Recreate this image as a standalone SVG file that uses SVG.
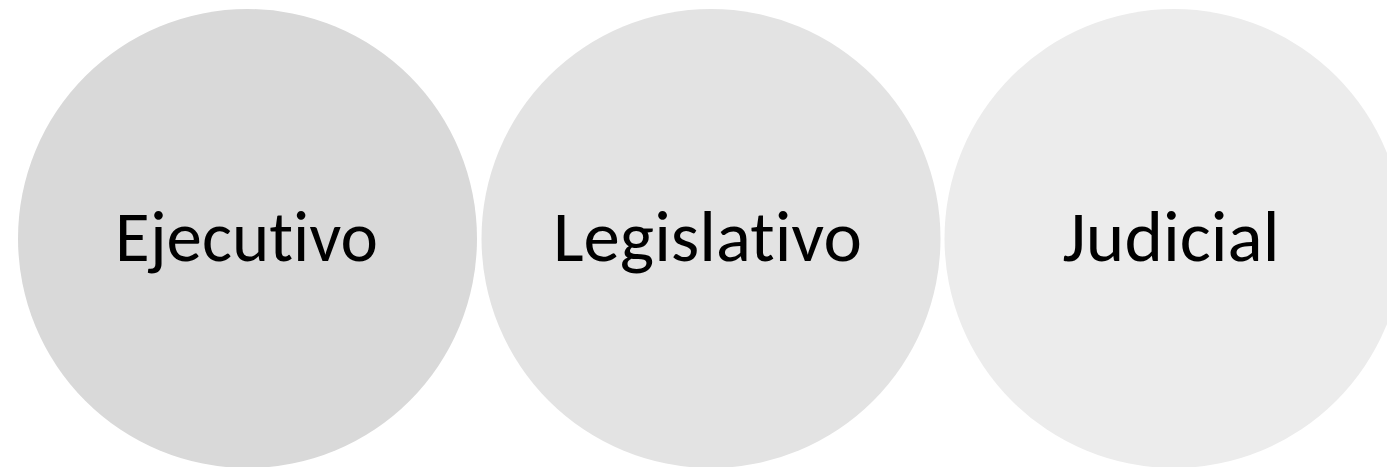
<svg xmlns="http://www.w3.org/2000/svg" width="1387" height="467" viewBox="0 0 1387 467">
<style>
.lbl{font-family:"Carlito","Open Sans","Liberation Sans",sans-serif;font-size:72px;fill:#000;text-anchor:middle;font-variant-ligatures:none}
</style>
<rect width="1387" height="467" fill="#ffffff"/>
<g id="connectors"></g>
<g id="node-ejecutivo">
<circle cx="247.5" cy="238.5" r="229.5" fill="#d9d9d9"/>
<text class="lbl" x="246.5" y="261" textLength="263" lengthAdjust="spacingAndGlyphs">Ejecutivo</text>
</g>
<g id="node-legislativo">
<circle cx="711" cy="238.5" r="229.5" fill="#e3e3e3"/>
<text class="lbl" x="707.5" y="261" textLength="309" lengthAdjust="spacingAndGlyphs">Legislativo</text>
</g>
<g id="node-judicial">
<circle cx="1174" cy="238.5" r="229.5" fill="#ececec"/>
<text class="lbl" x="1171" y="261" textLength="217" lengthAdjust="spacingAndGlyphs">Judicial</text>
</g>
</svg>
